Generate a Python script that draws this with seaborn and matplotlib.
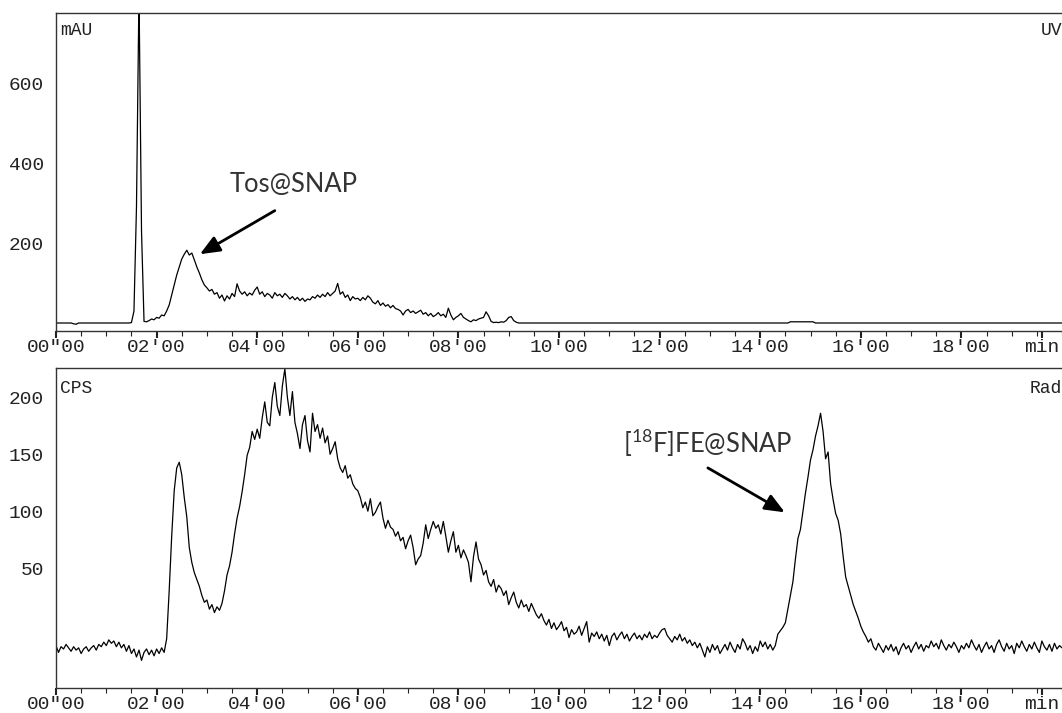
import numpy as np
import pandas as pd
import matplotlib.pyplot as plt
import seaborn as sns

# Chromatogram traces, time in minutes.
STEP = 0.05

# UV trace (mAU): flat lead-in, noisy part sampled every 0.05 min, flat tail
uv_lead_time = [0.0, 0.30, 0.35, 0.40, 0.45, 1.45]
uv_lead = [0, 0, -2, -3, 0, 0]
uv_noisy_start = 1.50
uv_0150_0195 = [1, 30, 290, 830, 230, 4, 3, 6, 10, 8]
uv_02_04 = [14, 12, 20, 18, 30, 45, 70, 95, 120, 140,
            160, 172, 182, 170, 175, 158, 140, 125, 108, 95,
            88, 80, 84, 72, 76, 62, 70, 55, 68, 60,
            74, 66, 98, 80, 72, 78, 68, 75, 70, 82]
uv_04_06 = [90, 72, 78, 66, 74, 70, 62, 76, 68, 72,
            64, 74, 68, 60, 66, 58, 64, 56, 62, 54,
            60, 58, 66, 62, 70, 64, 72, 66, 76, 68,
            74, 80, 99, 72, 78, 64, 70, 56, 66, 60]
uv_06_08 = [62, 56, 64, 58, 68, 62, 52, 48, 56, 44,
            50, 42, 46, 38, 44, 36, 34, 30, 20, 30,
            34, 26, 30, 24, 28, 32, 22, 26, 18, 24,
            16, 20, 26, 18, 22, 14, 37, 20, 8, 14]
uv_0800_0920 = [18, 24, 14, 10, 6, 3, 8, 6, 10, 12,
                14, 28, 18, 4, 1, 2, 1, 3, 2, 6,
                14, 16, 6, 2, 0]
uv_tail_time = [9.25, 14.55, 14.60, 15.05, 15.10, 20.0]
uv_tail = [0, 0, 3, 3, 0, 0]

# Radio trace (CPS), sampled every 0.05 min from 0 to 20 min
rad_00_02 = [-18, -24, -19, -21, -17, -20, -23, -19, -22, -20,
             -25, -21, -19, -23, -20, -18, -22, -17, -19, -15,
             -18, -13, -16, -14, -19, -15, -20, -17, -23, -18,
             -25, -21, -28, -22, -31, -24, -21, -26, -22, -27]
rad_02_04 = [-21, -25, -20, -24, -12, 30, 78, 118, 138, 143,
             132, 112, 95, 68, 55, 46, 40, 34, 26, 20,
             22, 14, 18, 11, 16, 13, 19, 30, 44, 52,
             64, 80, 94, 104, 117, 132, 149, 156, 170, 163]
rad_04_06 = [172, 164, 182, 196, 178, 175, 200, 213, 192, 184,
             210, 225, 200, 184, 205, 178, 168, 155, 176, 184,
             162, 152, 186, 170, 176, 164, 173, 160, 166, 150,
             155, 161, 146, 138, 134, 140, 129, 132, 124, 120]
rad_06_08 = [118, 112, 103, 108, 100, 111, 96, 99, 104, 108,
             94, 85, 92, 86, 84, 78, 82, 74, 77, 67,
             74, 79, 68, 53, 58, 61, 72, 88, 76, 84,
             91, 85, 88, 80, 91, 78, 64, 74, 82, 64]
rad_08_10 = [70, 59, 66, 61, 55, 38, 60, 73, 58, 53,
             44, 48, 38, 34, 40, 29, 35, 32, 26, 30,
             18, 24, 29, 20, 15, 22, 16, 18, 12, 19,
             14, 9, 6, 10, 4, 0, 5, -3, 2, -4]
rad_10_12 = [-1, 3, -5, -2, -11, -4, -8, -6, -1, -9,
             -3, 3, -15, -7, -10, -6, -12, -8, -14, -9,
             -18, -10, -7, -13, -9, -6, -12, -8, -14, -10,
             -7, -12, -9, -13, -8, -11, -6, -12, -9, -11]
rad_12_14 = [-7, -4, -3, -9, -12, -15, -10, -13, -8, -14,
             -11, -16, -13, -18, -15, -20, -16, -22, -28, -19,
             -24, -17, -22, -18, -25, -21, -17, -22, -15, -20,
             -24, -17, -21, -12, -16, -22, -18, -25, -19, -23]
rad_14_16 = [-14, -19, -15, -21, -17, -22, -18, -8, -5, -2,
             2, 14, 26, 38, 58, 76, 84, 100, 116, 130,
             145, 154, 166, 175, 186, 170, 146, 152, 124, 110,
             98, 92, 80, 60, 42, 34, 26, 18, 12, 6]
rad_16_20 = [-1, -6, -10, -15, -12, -19, -22, -16, -20, -24,
             -18, -22, -17, -23, -19, -26, -20, -16, -21, -18,
             -24, -19, -15, -21, -17, -23, -18, -20, -14, -19,
             -16, -21, -13, -18, -22, -17, -20, -15, -19, -24,
             -18, -21, -16, -20, -13, -18, -22, -17, -24, -19,
             -15, -21, -18, -24, -17, -13, -19, -23, -16, -21,
             -18, -25, -16, -20, -14, -19, -23, -17, -21, -15,
             -20, -24, -14, -19, -22, -17, -23, -16, -21, -18,
             -20]

tick_minutes = [0, 2, 4, 6, 8, 10, 12, 14, 16, 18]
tick_labels = ['00"00', "02'00", "04'00", "06'00", "08'00",
               "10'00", "12'00", "14'00", "16'00", "18'00"]
uv_yticks = [200, 400, 600]
rad_yticks = [50, 100, 150, 200]

# ---- build tables ----
uv_noisy = uv_0150_0195 + uv_02_04 + uv_04_06 + uv_06_08 + uv_0800_0920
uv_noisy_time = uv_noisy_start + STEP * np.arange(len(uv_noisy))
uv_df = pd.DataFrame({
    'time': np.concatenate([uv_lead_time, uv_noisy_time, uv_tail_time]),
    'signal': uv_lead + uv_noisy + uv_tail,
})
rad = (rad_00_02 + rad_02_04 + rad_04_06 + rad_06_08 + rad_08_10
       + rad_10_12 + rad_12_14 + rad_14_16 + rad_16_20)
rad_df = pd.DataFrame({'time': STEP * np.arange(len(rad)), 'signal': rad})

sns.set_style('white')
plt.rcParams['font.family'] = ['Liberation Mono', 'DejaVu Sans']
plt.rcParams['mathtext.fontset'] = 'custom'
plt.rcParams['mathtext.rm'] = 'Lato'

INK = '#222222'
W, H = 1062, 713
fig = plt.figure(figsize=(W / 100, H / 100), dpi=100)
ax_uv = fig.add_axes([56 / W, 382 / H, 1006 / W, 318.3 / H])
ax_rad = fig.add_axes([56 / W, 25.3 / H, 1006 / W, 320 / H])

sns.lineplot(data=uv_df, x='time', y='signal', ax=ax_uv, color='black',
             lw=0.9, estimator=None, sort=False)
sns.lineplot(data=rad_df, x='time', y='signal', ax=ax_rad, color='black',
             lw=0.9, estimator=None, sort=False)


def style_panel(ax, ylim, yticks, left_tag, right_tag, tag_drop):
    ax.set_xlim(0, 20)
    ax.set_ylim(*ylim)
    ax.set_xlabel('')
    ax.set_ylabel('')
    ax.set_xticks(tick_minutes + [19.6], tick_labels + ['min'])
    ax.set_xticks(np.arange(0, 20.01, 0.5), minor=True)
    ax.xaxis.get_major_ticks()[-1].tick1line.set_visible(False)
    ax.xaxis.set_ticks_position('bottom')
    ax.tick_params(axis='x', which='major', direction='out', length=5,
                   width=1.5, pad=1, labelsize=14, color=INK, labelcolor=INK)
    ax.tick_params(axis='x', which='minor', direction='out', length=3.6,
                   width=0.8, color=INK)
    ax.set_yticks(yticks)
    ax.tick_params(axis='y', length=0, pad=8.5, labelsize=14, labelcolor=INK)
    ax.spines['right'].set_visible(False)
    for side in ['top', 'left', 'bottom']:
        ax.spines[side].set_color('#333333')
        ax.spines[side].set_linewidth(1.0)
    ax.annotate(left_tag, xy=(0, 1), xycoords='axes fraction',
                xytext=(3, -tag_drop), textcoords='offset points',
                ha='left', va='baseline', fontsize=13, color=INK)
    ax.annotate(right_tag, xy=(1, 1), xycoords='axes fraction',
                xytext=(0, -tag_drop), textcoords='offset points',
                ha='right', va='baseline', fontsize=13, color=INK)


style_panel(ax_uv, (-20, 776), uv_yticks, 'mAU', 'UV', 16)
style_panel(ax_rad, (-55, 226), rad_yticks, 'CPS', 'Rad', 18)

arrow = dict(arrowstyle='-|>,head_length=0.6,head_width=0.25',
             color='black', lw=2, mutation_scale=20, shrinkA=0, shrinkB=0)
ax_uv.annotate('', xy=(2.86, 172), xytext=(4.35, 281), arrowprops=arrow)
ax_uv.text(3.46, 327, 'Tos@SNAP', family='Lato', fontsize=18.4,
           color='#333333', ha='left', va='baseline')
ax_rad.annotate('', xy=(14.49, 99), xytext=(12.96, 138), arrowprops=arrow)
ax_rad.text(11.27, 151, r'[$^\mathregular{18}$F]FE@SNAP', family='Lato',
            fontsize=18.4, color='#333333', ha='left', va='baseline')

fig.savefig('out.png', dpi=100)
